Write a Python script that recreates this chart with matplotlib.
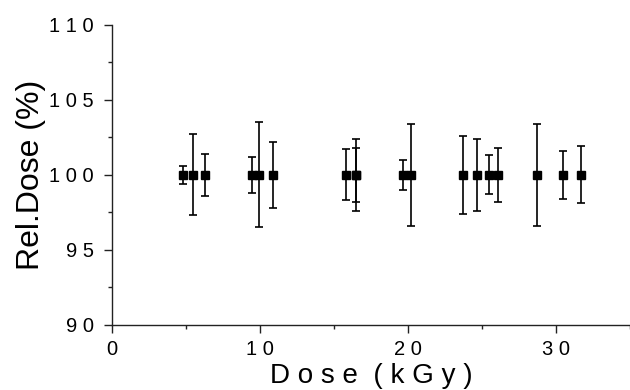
import matplotlib
matplotlib.use("Agg")
import matplotlib.pyplot as plt
from matplotlib.ticker import MultipleLocator, FixedLocator

# dose points (kGy), relative dose (%), and error half-widths
dose = [4.84, 5.49, 6.33, 9.48, 9.93, 10.88, 15.79, 16.49, 16.49,
        19.66, 20.2, 23.69, 24.68, 25.47, 26.08, 28.69, 30.5, 31.66]
rel_dose = [100] * len(dose)
err = [0.6, 2.7, 1.4, 1.2, 3.5, 2.2, 1.7, 2.4, 1.8,
       1.0, 3.4, 2.6, 2.4, 1.3, 1.8, 3.4, 1.6, 1.9]

yticks = [90, 95, 100, 105, 110]
ytick_labels = ["9 0", "9 5", "1 0 0", "1 0 5", "1 1 0"]
xticks = [0, 10, 20, 30]
xtick_labels = ["0", "1 0", "2 0", "3 0"]

plt.rcParams['font.family'] = ['Liberation Sans', 'DejaVu Sans']

fig = plt.figure(figsize=(6.3, 3.9), dpi=100)
ax = fig.add_axes([0.1773, 0.1667, 0.8227, 0.77])

ax.errorbar(dose, rel_dose, yerr=err, fmt='s', color='black',
            markersize=6, elinewidth=1.2, capsize=3.2, capthick=1.2)

ax.set_xlim(0, 35)
ax.set_ylim(90, 110)
ax.yaxis.set_major_locator(FixedLocator(yticks))
ax.set_yticklabels(ytick_labels)
ax.yaxis.set_minor_locator(MultipleLocator(2.5))
ax.xaxis.set_major_locator(FixedLocator(xticks))
ax.set_xticklabels(xtick_labels)
ax.xaxis.set_minor_locator(MultipleLocator(5))

ax.spines['top'].set_visible(False)
ax.spines['right'].set_visible(False)
for s in ['left', 'bottom']:
    ax.spines[s].set_linewidth(1.0)
    ax.spines[s].set_color('#222222')

ax.tick_params(which='major', length=6, width=1, direction='out',
               labelsize=14.5, pad=5, color='#222222')
ax.tick_params(axis='y', which='major', pad=7)
ax.tick_params(which='minor', length=3, width=1, direction='out',
               color='#222222')

ax.set_ylabel("Rel.Dose (%)", fontsize=23)
ax.yaxis.set_label_coords(-0.127, 0.5)
ax.set_xlabel("D o s e  ( k G y )", fontsize=20)
ax.xaxis.set_label_coords(0.5, -0.125)

fig.savefig("out.png", dpi=100)
